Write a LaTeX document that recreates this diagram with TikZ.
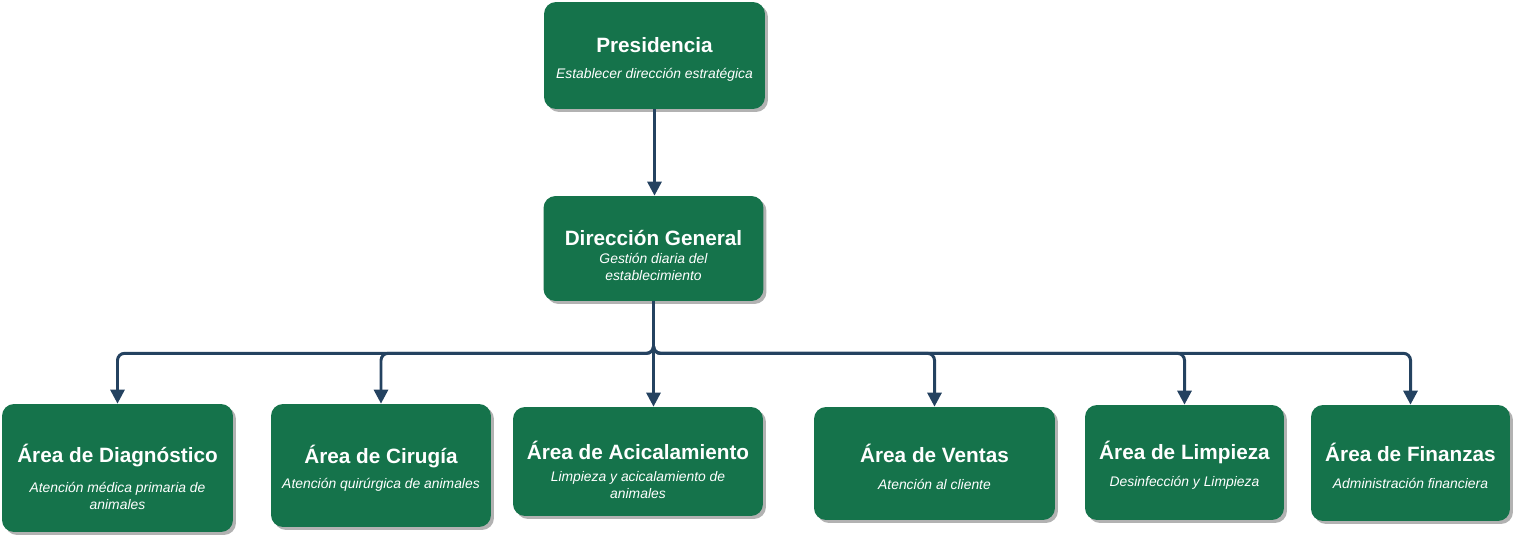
\documentclass[tikz,border=0pt]{standalone}
\usepackage{fontspec}
\setmainfont{Liberation Sans}
\usetikzlibrary{arrows.meta, positioning, shadows}

\definecolor{boxgreen}{RGB}{21,115,75}
\definecolor{linkblue}{RGB}{36,66,96}

% optional argument: height of the title line (moves the text down)
\newcommand{\boxtitle}[2][13pt]{{\rule{0pt}{#1}\fontsize{11.8}{14}\selectfont\bfseries #2}}
\newcommand{\boxsub}[1]{{\fontsize{7.9}{10}\selectfont\itshape #1}}

\begin{document}
\begin{tikzpicture}[
        x=0.02cm, y=-0.02cm,
        box/.style={rectangle, rounded corners=0.24cm, fill=boxgreen, text=white, align=center,
            inner sep=3pt, font=\fontsize{7.9}{9.6}\selectfont,
            drop shadow={shadow xshift=0.06cm, shadow yshift=-0.06cm, fill=black!30, opacity=1}},
        arrow/.style={-{Triangle[width=8pt,length=8pt]}, line width=1.7pt, draw=linkblue, rounded corners=0.14cm}
        ]
        \useasboundingbox (0,0) rectangle (1516,538);

        \node[box, minimum width=4.42cm, minimum height=2.14cm] (pres) at (654.5,55.5)
            {\boxtitle[13pt]{Presidencia}\\[5pt]\boxsub{Establecer dirección estratégica}};
        \node[box, minimum width=4.4cm, minimum height=2.1cm] (dg) at (653.5,248.5)
            {\boxtitle[16.5pt]{Dirección General}\\[1pt]\boxsub{Gestión diaria del}\\\boxsub{establecimiento}};

        \node[box, minimum width=4.62cm, minimum height=2.56cm] (diag) at (117.5,468)
            {\boxtitle[21pt]{Área de Diagnóstico}\\[7.5pt]\boxsub{Atención médica primaria de}\\\boxsub{animales}};
        \node[box, minimum width=4.4cm, minimum height=2.46cm] (cir) at (381,465.5)
            {\boxtitle[13.5pt]{Área de Cirugía}\\[5pt]\boxsub{Atención quirúrgica de animales}};
        \node[box, minimum width=5cm, minimum height=2.18cm] (acic) at (638,461.5)
            {\boxtitle[20pt]{Área de Acicalamiento}\\[2.5pt]\boxsub{Limpieza y acicalamiento de}\\\boxsub{animales}};
        \node[box, minimum width=4.82cm, minimum height=2.26cm] (ven) at (934.5,463.5)
            {\boxtitle[14pt]{Área de Ventas}\\[6pt]\boxsub{Atención al cliente}};
        \node[box, minimum width=3.98cm, minimum height=2.3cm] (limp) at (1184.5,462.5)
            {\boxtitle[13.5pt]{Área de Limpieza}\\[6pt]\boxsub{Desinfección y Limpieza}};
        \node[box, minimum width=3.98cm, minimum height=2.32cm] (fin) at (1410.5,463)
            {\boxtitle[13.5pt]{Área de Finanzas}\\[6pt]\boxsub{Administración financiera}};

        \draw[arrow] (pres.south) -- (pres.south |- dg.north);
        \foreach \child in {diag, cir, ven, limp, fin}
            \draw[arrow] (dg.south) -- ++(0,52) -| (\child.north);
        \draw[arrow] (dg.south) -- (dg.south |- acic.north);
    \end{tikzpicture}
\end{document}
